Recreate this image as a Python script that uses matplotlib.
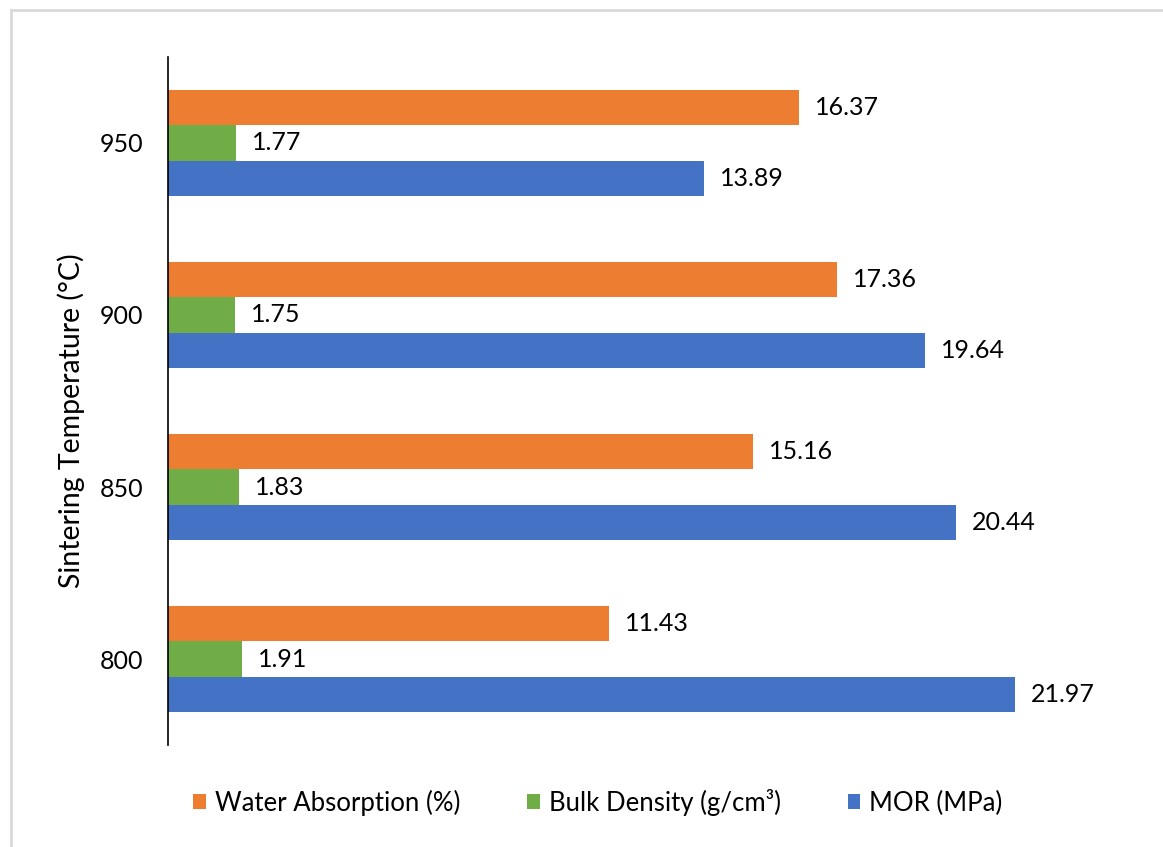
import matplotlib
matplotlib.use("Agg")
import matplotlib.pyplot as plt
from matplotlib.patches import Patch
from matplotlib.lines import Line2D
import numpy as np

plt.rcParams['font.family'] = ['Lato', 'DejaVu Sans']

temperatures = ["800", "850", "900", "950"]
mor = [21.97, 20.44, 19.64, 13.89]
bulk_density = [1.91, 1.83, 1.75, 1.77]
water_absorption = [11.43, 15.16, 17.36, 16.37]

series_names = ["Water Absorption (%)", "Bulk Density (g/cm³)", "MOR (MPa)"]
colors = ["#ED7D31", "#70AD47", "#4472C4"]

W, H = 1163, 847
fig = plt.figure(figsize=(W / 100, H / 100), dpi=100)

# light frame around the chart area
fig.add_artist(Line2D([10.5 / W, 1.0], [1 - 10.5 / H, 1 - 10.5 / H], color="#d9d9d9", lw=2))
fig.add_artist(Line2D([10.5 / W, 10.5 / W], [0, 1 - 10.5 / H], color="#d9d9d9", lw=2))

ax = fig.add_axes([168 / W, (H - 745) / H, (1140 - 168) / W, 688 / H])

y = np.arange(len(temperatures))
h = 0.206
series = [water_absorption, bulk_density, mor]
offsets = [h, 0, -h]
for vals, off, col, name in zip(series, offsets, colors, series_names):
    bars = ax.barh(y + off, vals, height=h, color=col, label=name)
    for b, v in zip(bars, vals):
        ax.annotate(f"{v:.2f}", (v, b.get_y() + b.get_height() / 2),
                    xytext=(11.5, 0), textcoords="offset points",
                    ha="left", va="center", fontsize=18)

ax.set_xlim(0, 972 / 38.56)
ax.set_ylim(-0.5, 3.5)
ax.set_yticks(y)
ax.set_yticklabels(temperatures, fontsize=18)
ax.tick_params(axis="y", length=0, pad=18)
ax.set_xticks([])
for s in ["top", "right", "bottom"]:
    ax.spines[s].set_visible(False)
ax.spines["left"].set_linewidth(1.2)
ax.spines["left"].set_color("black")
ax.set_ylabel("Sintering Temperature (°C)", fontsize=20.5)
ax.yaxis.set_label_coords(-0.085, 0.472)

handles = [Patch(facecolor=c) for c in colors]
fig.legend(handles, series_names, loc="center", bbox_to_anchor=(0.514, 0.053),
           ncol=3, frameon=False, fontsize=18.5, handlelength=0.5, handleheight=0.5,
           handletextpad=0.35, columnspacing=2.6)

fig.savefig("out.png", dpi=100, facecolor="white")
